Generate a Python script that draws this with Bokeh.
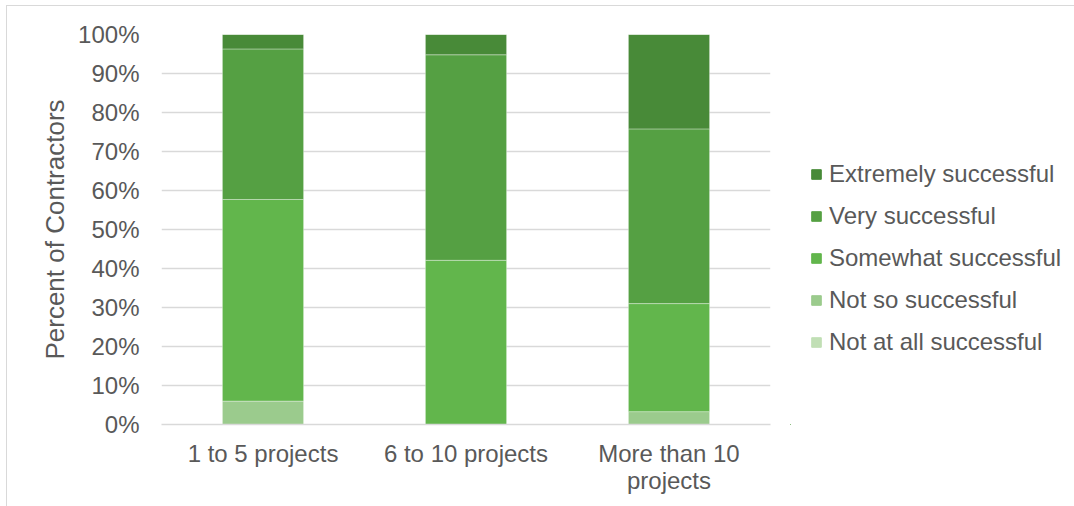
from bokeh.plotting import figure
from bokeh.layouts import row
from bokeh.models import (FactorRange, Range1d, FixedTicker, PrintfTickFormatter,
                          Legend, LegendItem, InlineStyleSheet, ColumnDataSource)
from bokeh.embed import file_html
from bokeh.resources import INLINE

categories = ["1 to 5 projects", "6 to 10 projects", "More than 10\nprojects"]
series = ["Not at all successful", "Not so successful", "Somewhat successful",
          "Very successful", "Extremely successful"]
not_at_all = [0.0, 0.0, 0.0]
not_so = [6.0, 0.0, 3.3]
somewhat = [51.7, 42.1, 27.7]
very = [38.6, 52.7, 44.8]
extremely = [3.7, 5.2, 24.2]
colors = ["#C1DFB5", "#9BCB8D", "#62B64C", "#55A043", "#488A38"]
y_ticks = [0, 10, 20, 30, 40, 50, 60, 70, 80, 90, 100]

data = {"cat": categories, "s0": not_at_all, "s1": not_so, "s2": somewhat,
        "s3": very, "s4": extremely}
keys = ["s0", "s1", "s2", "s3", "s4"]

FONT = "Liberation Sans"
TXT = "#595959"
GRID = "#D9D9D9"
FS = "24px"

p = figure(width=790, height=506, x_range=FactorRange(*categories),
           y_range=Range1d(0, 100), output_backend="svg", toolbar_location=None,
           min_border_left=161, min_border_right=20, min_border_top=34,
           min_border_bottom=82)
p.outline_line_color = None
p.background_fill_color = "white"
p.border_fill_color = None

p.vbar_stack(keys, x="cat", width=0.4, color=colors, source=data,
             line_color="white", line_alpha=0.35, line_width=1)

p.xgrid.grid_line_color = None
p.ygrid.grid_line_color = GRID
p.ygrid.grid_line_width = 1.3
p.yaxis.ticker = FixedTicker(ticks=y_ticks)
p.yaxis.formatter = PrintfTickFormatter(format="%d%%")

for ax in (p.xaxis[0], p.yaxis[0]):
    ax.major_tick_line_color = None
    ax.minor_tick_line_color = None
    ax.major_tick_out = 0
    ax.major_tick_in = 0
    ax.major_label_text_font = FONT
    ax.major_label_text_font_size = FS
    ax.major_label_text_color = TXT
p.yaxis.axis_line_color = None
p.xaxis.axis_line_color = GRID
p.xaxis.axis_line_width = 1.3
p.xaxis.major_label_text_line_height = 1.0
p.yaxis.major_label_standoff = 22
p.xaxis.major_label_standoff = 15
p.yaxis.axis_label = "Percent of Contractors"
p.yaxis.axis_label_text_font = FONT
p.yaxis.axis_label_text_font_size = "26px"
p.yaxis.axis_label_text_font_style = "normal"
p.yaxis.axis_label_text_color = TXT
p.yaxis.axis_label_standoff = 5

# legend panel (separate figure on the right); proxy glyphs lie outside its ranges
lg = figure(width=284, height=506, x_range=Range1d(0, 1), y_range=Range1d(0, 1),
            output_backend="svg", toolbar_location=None,
            x_axis_location=None, y_axis_location=None,
            min_border=0)
lg.outline_line_color = None
lg.border_fill_color = None
lg.background_fill_color = None
lg.grid.visible = False
proxy = ColumnDataSource(data={"x": [-1.0], "top": [0.0]})
leg_renderers = [lg.vbar(x="x", top="top", width=0.1, color=c, source=proxy)
                 for c in colors]
items = [LegendItem(label=series[i], renderers=[leg_renderers[i]]) for i in range(4, -1, -1)]
legend = Legend(items=items, location=(20, 68), orientation="vertical",
                label_text_font=FONT, label_text_font_size=FS,
                label_text_color=TXT, glyph_width=12, glyph_height=12,
                label_standoff=7, spacing=14, padding=10, margin=0,
                border_line_color=None, background_fill_alpha=0)
lg.add_layout(legend)

layout = row(p, lg)
layout.stylesheets = [InlineStyleSheet(css=(
    ":host { background: white; }"
    ":host::after { content: ''; position: absolute; left: 6px; top: 5px; "
    "width: 1068px; height: 501px; border-left: 1px solid #D9D9D9; "
    "border-top: 1px solid #D9D9D9; pointer-events: none; box-sizing: border-box; }"))]

open("out.html", "w").write(file_html(layout, INLINE))
